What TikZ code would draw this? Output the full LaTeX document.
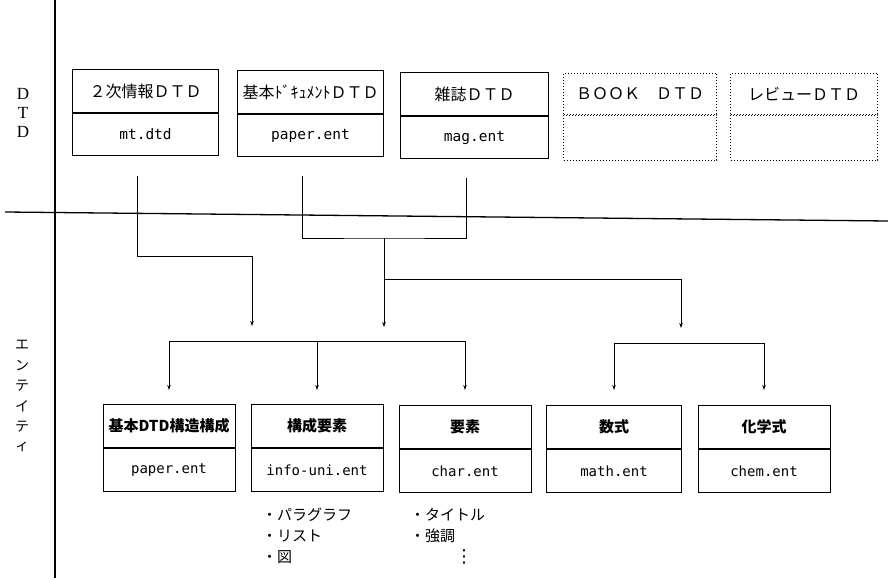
\documentclass[tikz,border=0pt]{standalone}
\usepackage{fontspec}
\setmainfont{Liberation Serif}
\newfontfamily\jp{Noto Sans CJK JP}
\newfontfamily\mono{DejaVu Sans Mono}
\newfontfamily\dv{DejaVu Sans}
\usetikzlibrary{calc,arrows.meta}
\tikzset{
  cell/.style={draw, line width=1pt, inner sep=0pt},
  dcell/.style={draw, dotted, line width=1pt, inner sep=0pt},
  tophead/.style={minimum width=146, minimum height=43, anchor=north west, font=\jp\fontsize{16}{16}\selectfont},
  topfoot/.style={minimum width=146, minimum height=42, anchor=north, font=\mono\fontsize{14.5}{14.5}\selectfont},
  lowhead/.style={cell, minimum width=132, minimum height=43, anchor=north, font=\jp\bfseries\fontsize{15}{15}\selectfont},
  lowfoot/.style={cell, minimum width=132, minimum height=43, anchor=north, font=\mono\fontsize{14}{14}\selectfont},
  conn/.style={line width=0.8pt},
  arr/.style={line width=0.8pt, -{Stealth[length=5pt,width=3.5pt]}},
  axis/.style={line width=1.3pt},
  side/.style={font=\fontsize{17}{17}\selectfont},
  jside/.style={font=\jp\fontsize{14}{14}\selectfont},
  bullet/.style={anchor=west, font=\jp\fontsize{15}{15}\selectfont, inner sep=0pt}
}
\begin{document}
\begin{tikzpicture}[x=1pt,y=-1pt]
\useasboundingbox (0,0) rectangle (888,580);
% axes
\coordinate (vt) at (55,0);
\coordinate (vb) at (55,578);
\coordinate (hl) at (5,212);
\coordinate (hr) at (888,221);
\draw[axis] (vt) -- (vb);
\draw[axis] (hl) -- (hr);
% side labels
\node[side] (sD1) at (23,94) {D};
\node[side] (sT) at (23,113) {T};
\node[side] (sD2) at (23,132) {D};
\node[jside] (e1) at (22,345) {エ};
\node[jside] (e2) at (22,365) {ン};
\node[jside] (e3) at (22,386) {テ};
\node[jside] (e4) at (22,406) {イ};
\node[jside] (e5) at (22,427) {テ};
\node[jside] (e6) at (22,447) {ィ};
% top DTD boxes
\node[cell, tophead] (d1h) at (72,69) {２次情報ＤＴＤ};
\node[cell, topfoot] (d1f) at (d1h.south) {mt.dtd};
\node[cell, tophead] (d2h) at (237,70) {基本ﾄﾞｷｭﾒﾝﾄＤＴＤ};
\node[cell, topfoot] (d2f) at (d2h.south) {paper.ent};
\node[cell, tophead, minimum width=148] (d3h) at (400,72) {雑誌ＤＴＤ};
\node[cell, topfoot, minimum width=148] (d3f) at (d3h.south) {mag.ent};
\node[dcell, tophead, minimum width=153, minimum height=41] (d4h) at (563,73) {ＢＯＯＫ　ＤＴＤ};
\node[dcell, topfoot, minimum width=153, minimum height=45] (d4f) at (d4h.south) {};
\node[dcell, tophead, minimum width=147, minimum height=41] (d5h) at (730,73) {レビューＤＴＤ};
\node[dcell, topfoot, minimum width=147, minimum height=45] (d5f) at (d5h.south) {};
% connectors from top
\coordinate (s1) at (137,176);
\coordinate (s2) at (302,176);
\coordinate (s3) at (466,178);
\coordinate (m1) at (384,238);
\coordinate (y1) at (0,256);
\coordinate (y2) at (0,279);
\coordinate (a1) at (252,326);
\coordinate (a2) at (384,327);
\coordinate (a3) at (681,328);
\draw[arr] (s1) |- (a1 |- y1) -- (a1);
\draw[conn] (s2) |- (m1) -| (s3);
\draw[arr] (m1) -- (a2);
\draw[arr] (m1 |- y2) -| (a3);
% lower boxes
\node[lowhead] (Ah) at (169,404) {基本DTD構造構成};
\node[lowfoot] (Af) at (Ah.south) {paper.ent};
\node[lowhead] (Bh) at (317,404) {構成要素};
\node[lowfoot] (Bf) at (Bh.south) {info-uni.ent};
\node[lowhead] (Ch) at (465,405) {要素};
\node[lowfoot] (Cf) at (Ch.south) {char.ent};
\node[lowhead, minimum width=135] (Dh) at (614,405) {数式};
\node[lowfoot, minimum width=135] (Df) at (Dh.south) {math.ent};
\node[lowhead] (Eh) at (764,405) {化学式};
\node[lowfoot] (Ef) at (Eh.south) {chem.ent};
% brackets
\coordinate (t1) at (169,341);
\coordinate (t2) at (317,341);
\coordinate (t3) at (465,341);
\coordinate (t4) at (614,343);
\coordinate (t5) at (764,343);
\draw[conn] (t1) -- (t3);
\draw[conn] (t4) -- (t5);
\draw[arr] (t1) -- ($(Ah.north)+(0,-14)$);
\draw[arr] (t2) -- ($(Bh.north)+(0,-14)$);
\draw[arr] (t3) -- ($(Ch.north)+(0,-15)$);
\draw[arr] (t4) -- ($(Dh.north)+(0,-15)$);
\draw[arr] (t5) -- ($(Eh.north)+(0,-15)$);
% notes
\node[bullet] (b1) at (262,515) {・パラグラフ};
\node[bullet] (b2) at (262,536) {・リスト};
\node[bullet] (b3) at (262,557) {・図};
\node[bullet] (c1) at (410,515) {・タイトル};
\node[bullet] (c2) at (410,536) {・強調};
\node[font=\dv\fontsize{18}{18}\selectfont, inner sep=0pt] (c3) at (464,557) {⋮};
\end{tikzpicture}
\end{document}
